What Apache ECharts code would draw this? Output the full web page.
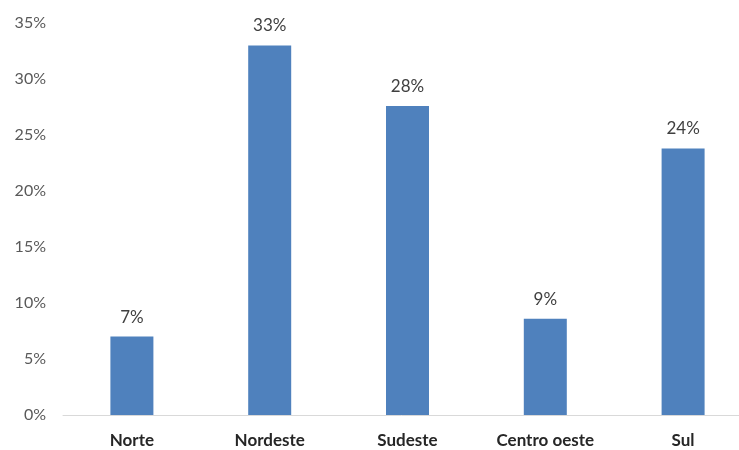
<!DOCTYPE html>
<html>
<head>
<meta charset="utf-8">
<script src="https://cdn.jsdelivr.net/npm/echarts@6/dist/echarts.min.js"></script>
<style>
  html, body { margin: 0; padding: 0; background: #ffffff; }
  #chart { width: 739px; height: 450px; }
</style>
</head>
<body>
<div id="chart"></div>
<script>
// dados
const regioes = ['Norte', 'Nordeste', 'Sudeste', 'Centro oeste', 'Sul']
const percentuais = [7.0, 33.0, 27.6, 8.6, 23.8]
const yTicks = [0, 5, 10, 15, 20, 25, 30, 35]

const chart = echarts.init(document.getElementById('chart'))

chart.setOption({
  backgroundColor: '#ffffff',
  animation: false,
  grid: {
    left: 63,
    right: -13,
    top: 23,
    bottom: 35,
    outerBoundsMode: 'none'
  },
  xAxis: {
    type: 'category',
    data: regioes,
    axisLine: { lineStyle: { color: '#d9d9d9', width: 1 } },
    axisTick: { show: false },
    axisLabel: {
      margin: 17,
      color: '#262626',
      fontFamily: 'Lato',
      fontWeight: 'bold',
      fontSize: 17
    }
  },
  yAxis: {
    type: 'value',
    min: yTicks[0],
    max: yTicks[yTicks.length - 1],
    interval: 5,
    axisLine: { show: false },
    axisTick: { show: false },
    splitLine: { show: false },
    axisLabel: {
      margin: 17,
      color: '#595959',
      fontFamily: 'Lato',
      fontSize: 16,
      formatter: v => v + '%'
    }
  },
  series: [{
    type: 'bar',
    data: percentuais,
    barWidth: 43,
    itemStyle: { color: '#4f81bd' },
    label: {
      show: true,
      position: 'top',
      distance: 11,
      color: '#404040',
      fontFamily: 'Lato',
      fontSize: 17,
      formatter: p => Math.round(p.value) + '%'
    }
  }]
})
</script>
</body>
</html>
